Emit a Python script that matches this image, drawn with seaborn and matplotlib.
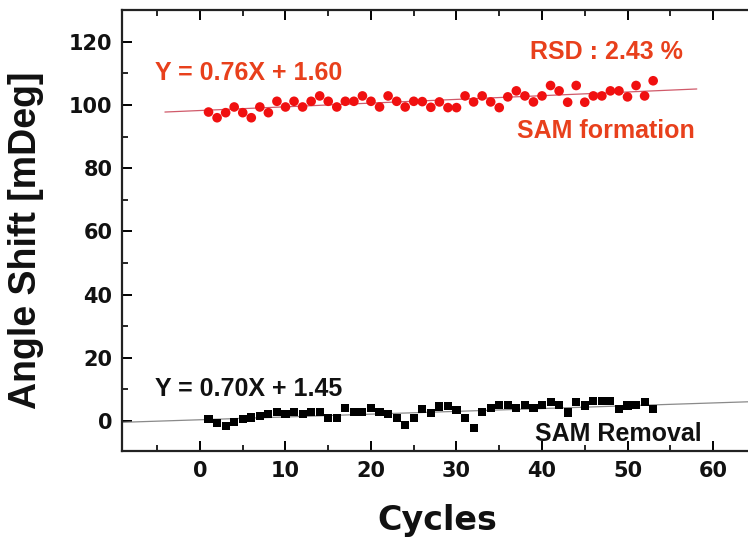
import matplotlib
matplotlib.use("Agg")
import matplotlib.pyplot as plt
import seaborn as sns
from matplotlib.ticker import MultipleLocator

# ---------------- data ----------------
cycles = list(range(1, 54))
sam_formation = [97.8, 96.0, 97.6, 99.4, 97.6, 96.0, 99.4, 97.6, 101.2, 99.4,
                 101.2, 99.4, 101.2, 102.9, 101.2, 99.4, 101.2, 101.2, 102.9, 101.2,
                 99.4, 102.9, 101.2, 99.4, 101.2, 101.1, 99.3, 101.0, 99.2, 99.2,
                 102.9, 101.0, 102.9, 101.0, 99.2, 102.6, 104.5, 102.9, 101.0, 102.9,
                 106.2, 104.5, 100.9, 106.2, 100.9, 102.9, 102.9, 104.5, 104.5, 102.6,
                 106.2, 102.9, 107.7]
sam_removal = [0.6, -0.5, -1.5, -0.2, 0.6, 1.1, 1.6, 2.2, 2.8, 2.2,
               2.8, 2.2, 2.8, 2.8, 0.9, 0.9, 4.1, 2.8, 2.8, 4.1,
               2.8, 2.2, 0.9, -1.2, 0.9, 3.9, 2.6, 4.6, 4.8, 3.5,
               0.9, -2.3, 2.8, 4.1, 5.1, 5.1, 4.1, 5.1, 4.1, 5.1,
               5.9, 5.1, 2.7, 5.9, 4.9, 6.2, 6.2, 6.2, 3.7, 4.9,
               5.1, 5.9, 3.7]
formation_fit_x = [-4.1, 58.1]
formation_fit_y = [97.8, 105.1]
removal_fit_x = [-10.0, 70.0]
removal_fit_y = [-0.5, 6.6]
x_ticks = [0, 10, 20, 30, 40, 50, 60]
y_ticks = [0, 20, 40, 60, 80, 100, 120]

RED_TEXT = "#e8401c"
RED_PTS = "#f01010"

sns.set_theme(style="ticks")
plt.rcParams["font.family"] = ["DejaVu Sans"]

fig = plt.figure(figsize=(7.48, 5.39), dpi=100)
ax = fig.add_axes([122 / 748, 88 / 539, 643 / 748, 441 / 539])

sns.lineplot(x=formation_fit_x, y=formation_fit_y, ax=ax, color="#d05a6a", lw=0.9, zorder=1)
sns.lineplot(x=removal_fit_x, y=removal_fit_y, ax=ax, color="#8a8a8a", lw=0.9, zorder=1)
sns.scatterplot(x=cycles, y=sam_formation, ax=ax, marker="o", color=RED_PTS,
                s=48, edgecolor="none", zorder=3)
sns.scatterplot(x=cycles, y=sam_removal, ax=ax, marker="s", color="black",
                s=34, edgecolor="none", zorder=3)

ax.set_xlim(-9.12, 66.08)
ax.set_ylim(-9.5, 130.1)
ax.set_xticks(x_ticks, labels=[str(v) for v in x_ticks], fontweight="bold", fontsize=15)
ax.set_yticks(y_ticks, labels=[str(v) for v in y_ticks], fontweight="bold", fontsize=15)
ax.xaxis.set_minor_locator(MultipleLocator(5))
ax.yaxis.set_minor_locator(MultipleLocator(10))
ax.tick_params(which="major", direction="in", length=7, width=1.4, top=True, right=False,
               color="black", labelcolor="#111111")
ax.tick_params(axis="x", which="major", pad=7)
ax.tick_params(axis="y", which="major", pad=7)
ax.tick_params(which="minor", direction="in", length=4, width=1.2, top=True, right=False,
               color="black")
for side in ["left", "bottom", "top"]:
    ax.spines[side].set_linewidth(1.6)
    ax.spines[side].set_color("#222222")
ax.spines["right"].set_visible(False)

ax.set_xlabel("Cycles", fontsize=24, fontweight="bold", color="#111111")
ax.xaxis.set_label_coords(0.49, -0.12)
ax.set_ylabel("Angle Shift [mDeg]", fontsize=27, fontweight="bold", color="#111111",
              family=["Liberation Sans"])
ax.yaxis.set_label_coords(-0.121, 0.478)

txt = dict(fontsize=18, fontweight="bold", family=["Liberation Sans"], va="center", ha="left")
ax.text(-5.3, 110.2, "Y = 0.76X + 1.60", color=RED_TEXT, **txt)
ax.text(38.6, 116.8, "RSD : 2.43 %", color=RED_TEXT, **txt)
ax.text(37.1, 91.8, "SAM formation", color=RED_TEXT, **txt)
ax.text(-5.3, 10.1, "Y = 0.70X + 1.45", color="#111111", **txt)
ax.text(39.2, -4.1, "SAM Removal", color="#111111", **txt)

fig.savefig("out.png", dpi=100)
